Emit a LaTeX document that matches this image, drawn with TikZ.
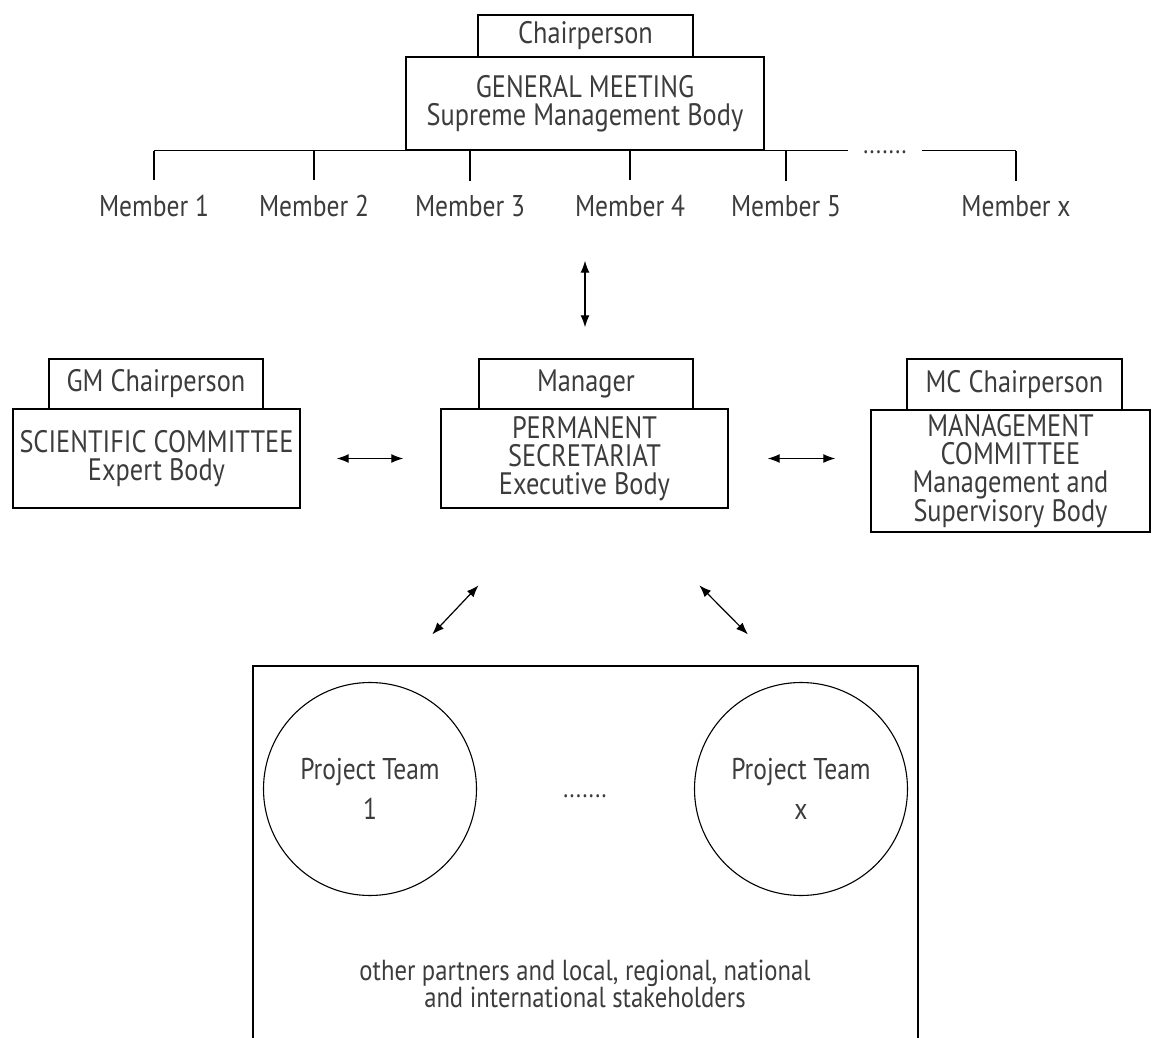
\documentclass[tikz,border=0pt]{standalone}
\usepackage{fontspec}
\setmainfont{PT Sans}[FakeStretch=0.85]
\usepackage{tikz}
\usetikzlibrary{arrows.meta}
\definecolor{Encre}{HTML}{3C3C3C}
\tikzset{
Trait/.style={
 draw=black,
 line width=1.4pt
 },
Boite/.style={
 draw=black,
 line width=1.4pt,
 rectangle,
 inner sep=0pt,
 align=center,
 text=Encre,
 font=\fontsize{31}{28}\selectfont
 },
Membre/.style={
 anchor=base,
 inner sep=0pt,
 text=Encre,
 font=\fontsize{30}{28}\selectfont
 },
Points/.style={
 anchor=base,
 inner xsep=15pt,
 inner ysep=0pt,
 text=Encre,
 font=\fontsize{27}{22}\selectfont
 },
Cercle/.style={
 draw=black,
 line width=1.1pt,
 circle,
 minimum size=213pt,
 inner sep=0pt,
 align=center,
 text=Encre,
 font=\fontsize{30}{40}\selectfont
 },
Legende/.style={
 align=center,
 inner sep=0pt,
 text=Encre,
 font=\fontsize{29}{25}\selectfont
 },
DoubleFleche/.style={
 draw=black,
 line width=1.2pt,
 {Latex[length=12pt,width=9pt]}-{Latex[length=12pt,width=9pt]}
 }
}
\begin{document}
\begin{tikzpicture}[x=1pt,y=-1pt]
\useasboundingbox (0,0) rectangle (1152,1038);
\node[Boite,minimum width=358pt,minimum height=93pt] (gm) at (585,103.5) {GENERAL MEETING\\Supreme Management Body};
\node[Boite,minimum width=215pt,minimum height=42pt] (chair) at (585.5,36) {Chairperson};
\foreach \x/\n/\t in {154/m1/Member 1,314/m2/Member 2,470/m3/Member 3,630/m4/Member 4,786/m5/Member 5,1016/mx/Member x}
 \node[Membre] (\n) at (\x,217) {\t};
\node[Points] (pts) at (885,154) {.......};
\draw[Trait] (m1.north |- gm.south) -- (pts.west |- gm.south);
\draw[Trait] (pts.east |- gm.south) -- (mx.north |- gm.south);
\foreach \n in {m1,m2,m3,m4,m5,mx}
 \draw[Trait,shorten <=15pt] (\n.north) -- (\n.north |- gm.south);
\node[Boite,minimum width=287pt,minimum height=99pt] (sc) at (156.5,458.5) {SCIENTIFIC COMMITTEE\\Expert Body};
\node[Boite,minimum width=214pt,minimum height=50pt] (gmc) at (156,384) {GM Chairperson};
\node[Boite,minimum width=287pt,minimum height=99pt] (ps) at (584.5,458.5) {PERMANENT\\SECRETARIAT\\Executive Body};
\node[Boite,minimum width=214pt,minimum height=50pt] (mgr) at (586,384) {Manager};
\node[Boite,minimum width=279pt,minimum height=122pt] (mc) at (1010.5,471) {MANAGEMENT\\COMMITTEE\\Management and\\Supervisory Body};
\node[Boite,minimum width=215pt,minimum height=51pt] (mcc) at (1014.5,384.5) {MC Chairperson};
\draw[DoubleFleche,shorten <=110pt,shorten >=31pt] (gm.south) -- (gm.south |- mgr.north);
\draw[DoubleFleche,shorten <=36pt,shorten >=37pt] (sc.east) -- (ps.west);
\draw[DoubleFleche,shorten <=39pt,shorten >=35pt] (ps.east) -- (ps.east -| mc.west);
\node[Trait,rectangle,minimum width=665pt,minimum height=394pt] (zone) at (585.5,863) {};
\draw[DoubleFleche,shorten <=105.5pt,shorten >=42.5pt] ([xshift=-33.5pt]ps.south) -- ([xshift=-182.5pt]zone.north);
\draw[DoubleFleche,shorten <=107.8pt,shorten >=43.4pt] ([xshift=39pt]ps.south) -- ([xshift=193pt]zone.north);
\node[Cercle] (pt1) at (370,789) {Project Team\\1};
\node[Cercle] (ptx) at (801,789) {Project Team\\x};
\node[Points] (ptsb) at (585,797) {.......};
\node[Legende] (autres) at (585,984) {other partners and local, regional, national\\and international stakeholders};
\end{tikzpicture}
\end{document}
